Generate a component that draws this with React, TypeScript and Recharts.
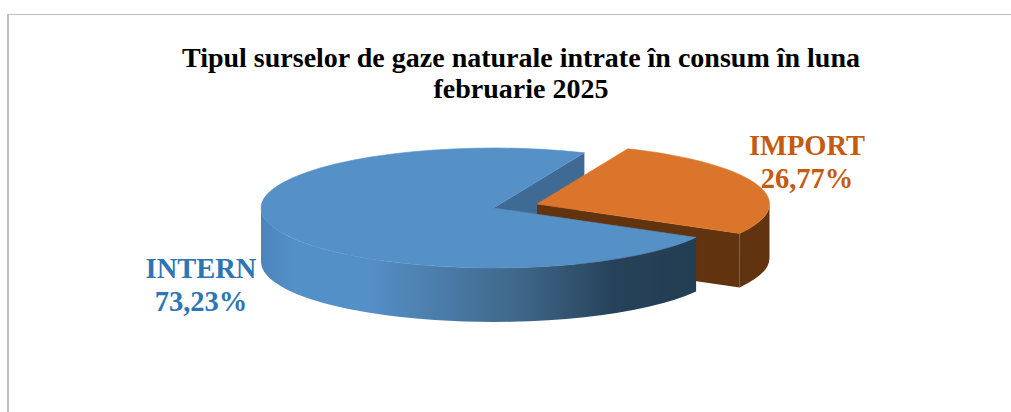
import { PieChart, Pie } from "recharts";

const categories = ["IMPORT", "INTERN"];
const shares = [26.77, 73.23];
const titleLines = [
  "Tipul surselor de gaze naturale intrate în consum în luna",
  "februarie 2025",
];

const data = categories.map((name, i) => ({ name, value: shares[i] }));

const FONT = '"Liberation Serif", "Times New Roman", serif';
const SQUASH = 60 / 232.5;
const DEPTH = 54;

const topColors = ["#dc752c", "#5590c7"];
const labelColors = ["#c55a11", "#2e75b6"];
const labelSpots = [
  { x: 807, y: 155 },
  { x: 201, y: 278 },
];
// the orange slice is pulled out of the pie
const offsets = [
  { dx: 43.5, dy: -4 },
  { dx: 0, dy: 0 },
];

function point(cx: number, cy: number, r: number, deg: number, down = 0) {
  const a = (deg * Math.PI) / 180;
  return {
    x: cx + r * Math.cos(a),
    y: cy - r * SQUASH * Math.sin(a) + down,
  };
}

function wall(cx: number, cy: number, r: number, deg: number) {
  const p = point(cx, cy, r, deg);
  return `M${cx},${cy} L${p.x},${p.y} L${p.x},${p.y + DEPTH} L${cx},${cy + DEPTH} Z`;
}

// inner wall of the big slice, has to sit behind the orange slice
const BackWall = (props: any) => {
  if (props.index !== 1) return <g />;
  return (
    <path
      d={wall(props.cx, props.cy, props.outerRadius, props.endAngle)}
      fill="#3f6a94"
    />
  );
};

const Slice3D = (props: any) => {
  const { index, outerRadius: r, startAngle, endAngle } = props;
  const cx = props.cx + offsets[index].dx;
  const cy = props.cy + offsets[index].dy;
  const ry = r * SQUASH;

  const s = point(cx, cy, r, startAngle);
  const e = point(cx, cy, r, endAngle);
  const large = Math.abs(startAngle - endAngle) > 180 ? 1 : 0;
  const top = `M${cx},${cy} L${s.x},${s.y} A${r},${ry} 0 ${large} 1 ${e.x},${e.y} Z`;

  // outer rim, only the part facing the viewer
  const from = Math.min(startAngle, 0);
  const to = Math.max(endAngle, -180);
  const a = point(cx, cy, r, from);
  const b = point(cx, cy, r, to);
  const rim = `M${a.x},${a.y} A${r},${ry} 0 0 1 ${b.x},${b.y} L${b.x},${b.y + DEPTH} A${r},${ry} 0 0 0 ${a.x},${a.y + DEPTH} Z`;

  return (
    <g>
      {index === 0 && <path d={wall(cx, cy, r, endAngle)} fill="#61330f" />}
      <path d={rim} fill={index === 0 ? "#61330f" : "url(#internRim)"} />
      {/* thin stroke hides the seam between rim and top */}
      <path
        d={top}
        fill={topColors[index]}
        stroke={topColors[index]}
        strokeWidth={0.6}
      />
    </g>
  );
};

const renderLabel = (props: any) => {
  const i = props.index;
  const spot = labelSpots[i];
  return (
    <text
      x={spot.x}
      y={spot.y}
      textAnchor="middle"
      fontFamily={FONT}
      fontWeight="bold"
      fontSize={28.5}
      fill={labelColors[i]}
    >
      <tspan x={spot.x}>{categories[i]}</tspan>
      <tspan x={spot.x} dy={33}>
        {shares[i].toFixed(2).replace(".", ",")}%
      </tspan>
    </text>
  );
};

export default function App() {
  return (
    <div
      style={{
        position: "absolute",
        left: 0,
        top: 0,
        width: 1011,
        height: 412,
        overflow: "hidden",
        background: "#fff",
      }}
    >
      <div
        style={{
          position: "absolute",
          left: 7,
          top: 14,
          width: 1100,
          height: 500,
          borderLeft: "2px solid #bfbfbf",
          borderTop: "1.5px solid #bfbfbf",
        }}
      />
      <div style={{ position: "absolute", left: 0, top: 0 }}>
        <PieChart
          width={1011}
          height={412}
          margin={{ top: 0, right: 0, bottom: 0, left: 0 }}
        >
          <defs>
            <linearGradient id="internRim" x1="0" y1="0" x2="1" y2="0">
              <stop offset="0" stopColor="#4a85bd" />
              <stop offset="0.08" stopColor="#5490c8" />
              <stop offset="0.24" stopColor="#5490c8" />
              <stop offset="0.39" stopColor="#4d7fad" />
              <stop offset="0.62" stopColor="#3c6384" />
              <stop offset="0.81" stopColor="#26425a" />
              <stop offset="1" stopColor="#233d52" />
            </linearGradient>
          </defs>
          {titleLines.map((line, i) => (
            <text
              key={line}
              x={521}
              y={67 + i * 31}
              textAnchor="middle"
              fontFamily={FONT}
              fontWeight="bold"
              fontSize={28}
              fill="#000"
            >
              {line}
            </text>
          ))}
          <Pie
            data={data}
            dataKey="value"
            nameKey="name"
            cx={493.5}
            cy={208}
            outerRadius={232.5}
            startAngle={67}
            endAngle={-293}
            stroke="none"
            shape={BackWall}
            isAnimationActive={false}
          />
          <Pie
            data={data}
            dataKey="value"
            nameKey="name"
            cx={493.5}
            cy={208}
            outerRadius={232.5}
            startAngle={67}
            endAngle={-293}
            stroke="none"
            shape={Slice3D}
            label={renderLabel}
            labelLine={false}
            isAnimationActive={false}
          />
        </PieChart>
      </div>
    </div>
  );
}
